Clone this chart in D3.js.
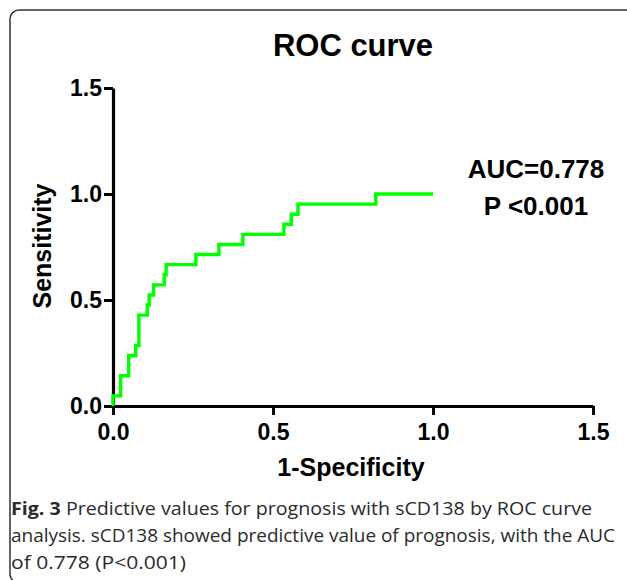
<!DOCTYPE html>
<html>
<head>
<meta charset="utf-8">
<script src="https://cdn.jsdelivr.net/npm/d3@7/dist/d3.min.js"></script>
<style>
  body { margin: 0; background: #fff; }
  svg { display: block; }
</style>
</head>
<body>
<svg width="627" height="580"></svg>
<script>
// ROC curve vertices (1-specificity, sensitivity)
var fpr = [0, 0, 0.024, 0.049, 0.071, 0.081, 0.107, 0.113, 0.127, 0.160, 0.166,
           0.259, 0.331, 0.406, 0.534, 0.557, 0.578, 0.821, 1.0];
var tpr = [0, 1/21, 3/21, 5/21, 6/21, 9/21, 10/21, 11/21, 12/21, 13/21, 14/21,
           15/21, 16/21, 17/21, 18/21, 19/21, 20/21, 1.0, 1.0];
var xTicks = [0, 0.5, 1.0, 1.5];
var yTicks = [0, 0.5, 1.0, 1.5];
var statLines = ["AUC=0.778", "P <0.001"];

var svg = d3.select("svg"),
    width = +svg.attr("width"),
    height = +svg.attr("height");

var chartFont = "'Liberation Sans', Arial, sans-serif";

// frame (bottom/right edges fall just outside the picture)
svg.append("rect")
    .attr("x", 10).attr("y", 10)
    .attr("width", 630).attr("height", 573)
    .attr("rx", 9).attr("ry", 9)
    .attr("fill", "none")
    .attr("stroke", "#333")
    .attr("stroke-width", 1.5);

var x = d3.scaleLinear().domain([0, 1.5]).range([113, 593]);
var y = d3.scaleLinear().domain([0, 1.5]).range([406, 88]);

// axes
var xAxis = svg.append("g")
    .attr("transform", "translate(0," + y(0) + ")")
    .call(d3.axisBottom(x).tickValues(xTicks).tickFormat(d3.format(".1f"))
      .tickSize(9).tickSizeOuter(0).tickPadding(9));

var yAxis = svg.append("g")
    .attr("transform", "translate(" + x(0) + ",0)")
    .call(d3.axisLeft(y).tickValues(yTicks).tickFormat(d3.format(".1f"))
      .tickSize(9).tickSizeOuter(0).tickPadding(2));

[xAxis, yAxis].forEach(function(a) {
  a.select(".domain").attr("stroke", "#000").attr("stroke-width", 3.2);
  a.selectAll(".tick line").attr("stroke", "#000").attr("stroke-width", 3);
  a.selectAll(".tick text")
    .attr("fill", "#000")
    .style("font-family", chartFont)
    .style("font-weight", "bold")
    .style("font-size", "23px");
});

// curve
var line = d3.line()
    .x(function(d, i) { return x(fpr[i]); })
    .y(function(d, i) { return y(tpr[i]); })
    .curve(d3.curveStepAfter);

svg.append("path")
    .datum(fpr)
    .attr("d", line)
    .attr("fill", "none")
    .attr("stroke", "#00ff00")
    .attr("stroke-width", 3.4)
    .attr("stroke-linejoin", "miter");

// titles
svg.append("text")
    .attr("x", 353).attr("y", 56)
    .attr("text-anchor", "middle")
    .style("font-family", chartFont)
    .style("font-weight", "bold")
    .style("font-size", "31px")
    .text("ROC curve");

svg.append("text")
    .attr("transform", "translate(51,246) rotate(-90)")
    .attr("text-anchor", "middle")
    .style("font-family", chartFont)
    .style("font-weight", "bold")
    .style("font-size", "25px")
    .text("Sensitivity");

svg.append("text")
    .attr("x", 351).attr("y", 476)
    .attr("text-anchor", "middle")
    .style("font-family", chartFont)
    .style("font-weight", "bold")
    .style("font-size", "25px")
    .text("1-Specificity");

svg.selectAll(".stat")
    .data(statLines)
  .enter().append("text")
    .attr("class", "stat")
    .attr("x", 536)
    .attr("y", function(d, i) { return 178 + i * 37; })
    .attr("text-anchor", "middle")
    .style("font-family", chartFont)
    .style("font-weight", "bold")
    .style("font-size", "26px")
    .text(function(d) { return d; });

// caption, fitted to the reference line widths
var caption = svg.append("g")
    .style("font-family", "'Open Sans', sans-serif")
    .style("font-size", "18.5px")
    .attr("fill", "#2b2b2b");

var l1 = caption.append("text").attr("x", 11).attr("y", 515)
    .attr("textLength", 581).attr("lengthAdjust", "spacingAndGlyphs");
l1.append("tspan").style("font-weight", "bold").text("Fig. 3");
l1.append("tspan").text(" Predictive values for prognosis with sCD138 by ROC curve");

caption.append("text").attr("x", 11).attr("y", 542)
    .attr("textLength", 604).attr("lengthAdjust", "spacingAndGlyphs")
    .text("analysis. sCD138 showed predictive value of prognosis, with the AUC");
caption.append("text").attr("x", 11).attr("y", 569)
    .attr("textLength", 175).attr("lengthAdjust", "spacingAndGlyphs")
    .text("of 0.778 (P<0.001)");
</script>
</body>
</html>
